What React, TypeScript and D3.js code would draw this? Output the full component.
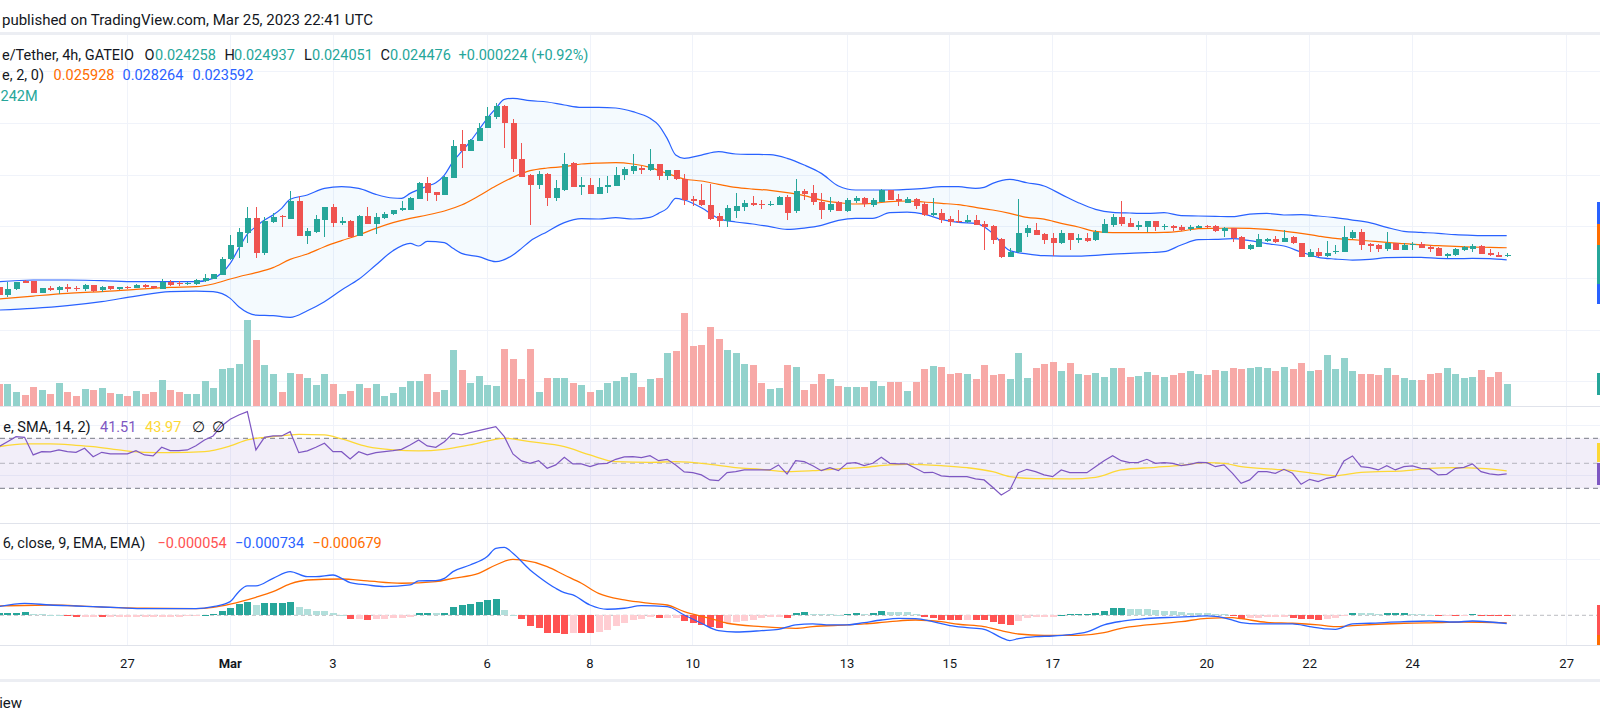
import * as d3 from "d3";

// 4h bars, the first visible one opens 24 Feb 2023 12:00 UTC
const firstBar = Date.UTC(2023, 1, 24, 12);
const barMs = 4 * 3600 * 1000;

// [open, high, low, close] in 10^-3 USDT
const candles: [number, number, number, number][] = [
  [18.26, 18.45, 16.6, 16.78], [16.78, 19.36, 16.45, 17.87], [17.87, 19.36, 17.74, 19.23], [19.49, 19.68, 19.04, 19.16],
  [19.42, 19.55, 17.23, 17.23], [17.23, 18.2, 17.1, 18.13], [18.13, 18.45, 17.62, 17.74], [17.74, 18.52, 16.91, 18.26],
  [18.26, 18.91, 17.36, 17.87], [18.13, 18.45, 17.62, 17.94], [17.87, 18.91, 17.62, 18.71], [18.71, 18.8, 17.42, 17.62],
  [17.74, 18.52, 17.42, 18.33], [18.52, 18.6, 17.8, 17.87], [17.94, 18.4, 17.8, 18.26], [18.33, 18.5, 17.95, 18.07],
  [18.2, 18.9, 18.1, 18.71], [18.71, 18.85, 18.2, 18.26], [18.45, 18.6, 18.0, 18.13], [17.94, 19.87, 17.94, 19.36],
  [19.36, 19.68, 18.52, 18.71], [19.16, 19.55, 18.52, 18.84], [18.84, 19.3, 18.7, 19.16], [18.84, 19.81, 18.71, 19.68],
  [19.42, 20.84, 19.36, 20.13], [19.94, 20.9, 19.9, 20.84], [20.65, 24.2, 20.65, 23.74], [23.74, 28.39, 23.55, 26.45],
  [26.13, 29.68, 23.87, 28.91], [28.84, 33.87, 26.78, 31.62], [31.62, 33.87, 24.0, 24.97], [24.97, 31.94, 24.52, 31.1],
  [30.97, 32.58, 30.78, 31.94], [32.07, 32.26, 30.0, 31.81], [31.55, 36.91, 31.55, 35.04], [35.04, 35.94, 28.26, 28.26],
  [28.26, 29.81, 26.58, 29.16], [29.04, 32.26, 28.71, 31.49], [31.29, 33.87, 28.07, 33.74], [33.74, 34.33, 30.0, 30.78],
  [30.78, 31.94, 30.33, 31.1], [31.1, 31.3, 28.07, 28.07], [28.26, 32.26, 28.26, 32.07], [32.07, 33.87, 30.52, 30.52],
  [30.52, 32.58, 28.58, 31.94], [31.68, 32.91, 31.42, 32.45], [32.45, 33.3, 32.3, 33.23], [33.23, 34.97, 33.04, 33.55],
  [33.23, 35.81, 33.23, 35.62], [35.36, 38.6, 35.3, 38.45], [38.45, 39.55, 35.04, 36.58], [36.71, 36.8, 35.04, 36.2],
  [36.2, 39.8, 36.2, 39.68], [39.49, 46.78, 39.49, 45.68], [46.0, 48.71, 41.42, 44.71], [44.71, 46.9, 44.6, 46.78],
  [46.65, 50.0, 46.6, 49.16], [49.16, 53.23, 49.1, 51.42], [51.29, 53.87, 50.78, 53.36], [53.36, 53.5, 45.16, 50.13],
  [50.13, 50.84, 40.65, 43.1], [43.1, 46.26, 39.68, 39.68], [40.0, 40.13, 30.33, 38.07], [38.07, 40.84, 37.23, 40.2],
  [40.2, 40.3, 34.0, 35.62], [35.62, 39.04, 35.04, 37.55], [37.1, 44.33, 36.97, 42.13], [42.39, 42.5, 37.74, 37.74],
  [37.74, 39.55, 36.13, 38.07], [38.07, 39.36, 36.33, 36.33], [36.33, 39.36, 36.33, 37.62], [37.62, 39.81, 36.58, 38.07],
  [37.87, 41.49, 37.87, 40.0], [40.0, 41.62, 39.04, 41.16], [40.84, 44.07, 40.2, 41.74], [41.42, 41.81, 40.2, 40.97],
  [40.97, 45.04, 40.84, 42.13], [42.13, 42.2, 39.04, 39.87], [39.87, 41.0, 39.04, 40.97], [40.97, 41.0, 39.04, 39.16],
  [39.16, 40.13, 34.2, 35.16], [35.36, 35.94, 34.0, 35.04], [35.16, 38.26, 34.0, 34.2], [34.2, 38.26, 31.29, 31.55],
  [32.07, 32.71, 30.0, 31.16], [31.16, 34.2, 30.0, 33.55], [33.1, 36.45, 31.74, 34.0], [33.87, 35.16, 33.1, 34.52],
  [34.52, 35.94, 34.0, 34.2], [34.39, 35.1, 33.5, 34.26], [34.2, 35.04, 34.0, 34.39], [34.2, 35.94, 34.2, 35.74],
  [35.74, 36.13, 31.29, 32.71], [33.04, 39.16, 32.71, 36.91], [36.91, 37.29, 35.16, 36.39], [36.45, 38.0, 34.2, 34.84],
  [34.84, 36.45, 31.55, 33.23], [33.23, 35.81, 32.91, 34.39], [34.71, 35.0, 33.0, 33.1], [33.1, 35.49, 32.91, 35.16],
  [35.04, 35.94, 34.5, 35.62], [35.62, 35.7, 33.9, 34.33], [34.26, 35.62, 33.9, 35.16], [34.84, 37.3, 34.8, 37.1],
  [37.1, 37.2, 35.1, 35.16], [35.36, 36.33, 34.0, 34.91], [34.65, 35.68, 34.52, 35.42], [35.36, 35.49, 33.49, 34.07],
  [34.39, 34.84, 32.13, 32.26], [32.26, 35.62, 32.07, 32.71], [32.65, 33.36, 30.78, 31.29], [31.42, 32.07, 30.2, 30.91],
  [31.16, 33.23, 30.65, 30.91], [30.91, 32.26, 30.78, 31.29], [31.29, 32.26, 30.26, 30.26], [30.52, 31.1, 25.49, 30.0],
  [30.13, 30.26, 26.58, 27.42], [27.62, 27.87, 24.0, 24.2], [24.2, 25.94, 24.2, 25.16], [25.16, 35.29, 24.84, 28.84],
  [28.84, 30.32, 27.94, 29.81], [29.36, 30.65, 28.39, 28.39], [28.58, 28.71, 26.65, 27.42], [27.74, 28.71, 24.32, 26.9],
  [26.9, 29.36, 26.65, 28.84], [28.71, 28.75, 25.49, 27.42], [27.42, 28.52, 26.9, 27.81], [27.87, 28.84, 27.1, 27.29],
  [27.42, 29.36, 27.29, 29.03], [28.84, 31.42, 28.71, 30.52], [30.32, 32.39, 29.87, 31.81], [31.87, 35.0, 30.13, 30.52],
  [30.78, 31.61, 30.0, 30.0], [30.0, 31.1, 29.36, 30.26], [30.0, 31.1, 29.03, 31.1], [31.1, 31.15, 29.23, 30.0],
  [30.0, 30.52, 29.36, 30.19], [30.19, 30.32, 29.23, 29.68], [29.87, 30.32, 29.23, 29.36], [29.49, 30.26, 29.23, 30.0],
  [29.81, 30.32, 29.68, 30.13], [30.13, 30.32, 29.81, 29.94], [30.13, 30.32, 29.03, 29.23], [29.23, 30.0, 28.07, 29.74],
  [29.68, 29.81, 27.1, 27.74], [28.07, 28.19, 25.68, 25.68], [25.68, 26.65, 25.49, 26.45], [26.13, 28.52, 26.13, 27.55],
  [27.29, 27.81, 27.03, 27.68], [27.68, 28.13, 26.78, 27.03], [27.03, 29.36, 27.03, 27.81], [28.0, 28.19, 26.65, 26.78],
  [26.78, 26.8, 24.07, 24.07], [24.19, 25.61, 24.07, 25.1], [25.1, 25.94, 24.07, 24.39], [24.32, 27.23, 24.19, 24.84],
  [25.16, 26.45, 24.71, 25.36], [25.16, 30.13, 25.16, 27.94], [27.81, 29.36, 27.55, 29.03], [28.97, 29.49, 25.49, 26.45],
  [26.65, 26.78, 25.16, 26.26], [26.39, 26.58, 25.16, 25.68], [25.68, 28.97, 25.23, 26.78], [26.78, 26.9, 25.49, 25.49],
  [25.49, 26.78, 25.49, 26.39], [26.39, 26.97, 25.49, 26.65], [26.65, 26.97, 25.94, 25.94], [26.13, 26.45, 25.16, 25.74],
  [25.94, 26.0, 24.32, 24.32], [24.32, 24.97, 24.0, 24.65], [24.52, 25.81, 24.32, 25.68], [25.55, 26.26, 25.29, 26.0],
  [25.74, 26.58, 25.16, 26.26], [26.26, 26.39, 24.71, 24.71], [24.97, 25.61, 24.32, 24.45], [24.58, 25.1, 24.07, 24.19],
  [24.258, 24.937, 24.051, 24.476],
];

// volume per bar, millions
const volumes = [
  2.24, 2.24, 1.43, 1.12, 1.94, 1.63, 1.22, 2.35, 1.43, 1.02,
  1.73, 1.63, 1.84, 1.33, 1.22, 1.02, 1.53, 1.22, 1.43, 2.65,
  1.63, 1.43, 1.22, 1.22, 2.55, 1.84, 3.78, 3.88, 4.29, 8.78,
  6.73, 4.18, 3.27, 1.43, 3.37, 3.27, 2.86, 2.14, 3.27, 2.24,
  1.22, 1.53, 2.24, 1.84, 2.24, 1.02, 1.33, 1.94, 2.55, 2.55,
  3.27, 1.43, 1.63, 5.71, 3.67, 2.35, 3.06, 2.14, 2.04, 5.82,
  4.8, 2.76, 5.82, 1.43, 2.86, 2.86, 2.86, 2.35, 2.14, 1.43,
  1.63, 2.35, 2.55, 2.96, 3.37, 1.94, 2.76, 2.86, 5.41, 5.61,
  9.49, 6.12, 6.22, 8.06, 6.84, 5.71, 5.41, 4.29, 4.18, 2.35,
  1.73, 1.84, 4.18, 3.98, 1.63, 2.24, 3.27, 2.76, 2.04, 1.94,
  1.94, 1.94, 2.55, 2.04, 2.45, 2.45, 1.53, 2.45, 3.78, 4.08,
  3.98, 3.27, 3.37, 3.27, 2.76, 4.18, 3.16, 3.27, 2.76, 5.41,
  2.86, 3.88, 4.29, 4.49, 3.57, 4.39, 3.27, 3.16, 3.37, 2.96,
  3.88, 3.88, 2.96, 3.06, 3.47, 3.16, 2.96, 3.16, 3.37, 3.57,
  3.27, 3.16, 3.67, 3.57, 3.88, 3.78, 3.88, 3.98, 3.91, 3.57,
  3.98, 3.78, 4.39, 3.57, 3.67, 5.2, 3.78, 4.9, 3.57, 3.27,
  3.27, 3.16, 3.88, 3.16, 2.86, 2.65, 2.65, 3.27, 3.37, 3.88,
  3.27, 2.86, 2.96, 3.67, 2.96, 3.47, 2.242,
];

// RSI 14, one value per bar
const rsiValues = [
  63.3, 67.3, 71.3, 70.8, 56.7, 59.3, 59.1, 60.7, 59.3, 58.8,
  62.0, 55.3, 58.8, 57.5, 57.5, 57.5, 60.1, 56.7, 55.9, 62.8,
  60.1, 60.1, 60.7, 64.1, 68.7, 71.9, 79.9, 85.2, 88.7, 91.3,
  60.7, 70.8, 71.9, 71.9, 75.3, 58.5, 59.9, 62.8, 66.0, 59.3,
  59.3, 53.5, 59.3, 56.7, 58.5, 59.3, 60.1, 61.2, 64.7, 68.7,
  63.9, 62.8, 67.3, 74.0, 72.7, 74.5, 76.1, 77.7, 79.3, 71.3,
  57.5, 51.9, 50.0, 52.1, 46.0, 48.7, 54.8, 49.5, 49.5, 47.3,
  49.5, 50.0, 53.2, 55.1, 55.3, 54.5, 56.1, 52.1, 53.2, 48.7,
  43.1, 42.5, 40.7, 36.7, 36.1, 42.5, 43.3, 44.7, 44.7,
  44.7, 44.7, 48.7, 41.5, 52.1, 51.3, 48.1, 44.1, 46.5, 44.1,
  50.0, 50.5, 48.1, 50.0, 54.8, 50.0, 49.5, 49.5, 46.0, 42.5,
  42.8, 39.9, 39.3, 39.3, 39.3, 37.5, 36.7, 30.8, 24.7, 28.7,
  42.5, 45.2, 43.3, 40.7, 39.3, 44.7, 42.5, 42.5, 42.5, 47.3,
  52.1, 56.1, 52.1, 50.5, 50.8, 53.2, 50.0, 50.5, 50.0, 48.1,
  49.2, 50.8, 50.5, 47.3, 48.7, 42.0, 34.0, 36.7, 43.3, 43.3,
  42.0, 45.2, 42.0, 33.2, 37.2, 35.3, 38.0, 39.3, 51.9, 55.9,
  47.3, 46.5, 44.7, 48.1, 44.7, 47.3, 47.9, 46.0, 45.5, 40.7,
  41.2, 46.0, 46.8, 49.5, 43.3, 41.5, 40.7, 41.51,
];

// SMA 14 of the RSI, [bar, value]
const rsiSma: [number, number][] = [
  [0, 63.3], [3, 65.5], [6, 65.5], [9, 64.4], [11, 63.3], [14, 60.7], [17, 58.8], [20, 58.5], [24, 59.3],
  [27, 63.9], [29, 68.7], [32, 71.3], [35, 73.2], [38, 72.7], [40, 69.5], [43, 63.3], [46, 60.7], [49, 59.9],
  [52, 61.2], [55, 64.7], [59, 70.0], [62, 67.3], [66, 63.3], [69, 56.7], [72, 51.3], [76, 50.8], [79, 51.3],
  [83, 49.2], [86, 46.5], [89, 45.2], [92, 43.3], [95, 44.1], [98, 45.5], [101, 46.8], [104, 48.7], [106, 49.2],
  [110, 48.1], [113, 46.5], [116, 43.3], [118, 39.3], [121, 37.7], [125, 37.5], [128, 38.8], [131, 44.7],
  [135, 46.8], [138, 48.4], [141, 50.5], [143, 50.0], [145, 47.3], [149, 45.2], [151, 44.1], [154, 41.5],
  [156, 40.1], [159, 42.8], [161, 43.3], [164, 43.9], [167, 46.0], [170, 46.5], [173, 46.0], [176, 43.97],
];

// Bollinger Bands 20, 2: [bar, price 10^-3]
const bbUpper: [number, number][] = [
  [0, 19.36], [4, 19.68], [8, 19.68], [12, 19.55], [16, 19.36], [20, 19.36], [23, 19.36], [25, 20.0], [27, 22.9],
  [28, 25.8], [29, 28.58], [30, 30.0], [31, 31.29], [32, 32.26], [33, 33.55], [34, 35.3], [36, 36.13], [38, 37.42],
  [40, 37.74], [42, 37.42], [44, 36.26], [46, 35.55], [47, 35.49], [48, 36.45], [50, 37.87], [51, 38.52], [52, 40.0],
  [53, 42.58], [54, 44.52], [55, 46.45], [56, 48.71], [57, 50.97], [58, 52.9], [59, 54.65], [60, 54.84], [62, 54.39],
  [64, 54.13], [66, 53.55], [68, 53.1], [70, 53.1], [72, 52.97], [74, 52.26], [76, 50.97], [77, 49.68], [78, 47.1],
  [79, 43.87], [80, 43.23], [82, 43.87], [84, 44.52], [86, 44.07], [88, 44.0], [90, 43.94], [92, 43.23], [94, 41.94],
  [96, 40.32], [98, 37.87], [100, 37.1], [102, 37.1], [104, 37.1], [106, 37.23], [108, 37.42], [110, 37.74],
  [112, 37.74], [114, 37.42], [115, 37.62], [116, 38.39], [118, 39.16], [120, 38.5], [122, 37.87], [124, 36.26],
  [126, 34.65], [128, 33.36], [130, 32.77], [132, 32.65], [134, 32.58], [136, 32.71], [138, 32.13], [140, 32.07],
  [142, 32.0], [144, 31.94], [146, 32.45], [148, 32.58], [150, 32.26], [152, 32.32], [154, 32.07], [156, 31.74],
  [158, 31.29], [160, 30.78], [162, 29.87], [164, 29.1], [166, 28.9], [168, 28.71], [170, 28.45], [172, 28.32],
  [174, 28.26], [176, 28.264],
];
const bbBasis: [number, number][] = [
  [0, 16.0], [4, 16.58], [8, 17.1], [12, 17.42], [16, 17.87], [20, 18.26], [23, 18.39], [25, 18.91], [27, 19.87],
  [28, 20.32], [30, 21.1], [32, 22.07], [34, 23.68], [36, 24.71], [38, 26.13], [40, 27.3], [42, 28.39], [44, 29.68],
  [46, 30.78], [48, 31.62], [50, 32.26], [52, 33.04], [54, 34.2], [56, 35.94], [58, 37.87], [60, 39.55], [62, 40.84],
  [64, 41.36], [66, 41.62], [68, 42.13], [70, 42.32], [72, 42.39], [74, 42.13], [76, 41.49], [78, 40.32], [80, 39.23],
  [82, 38.84], [84, 38.2], [86, 37.62], [88, 37.29], [90, 37.03], [92, 36.58], [94, 36.0], [96, 35.16], [98, 34.65],
  [100, 34.39], [102, 34.52], [104, 34.84], [106, 34.97], [108, 34.78], [110, 34.52], [112, 34.26], [114, 33.74],
  [116, 33.23], [118, 32.58], [120, 31.8], [122, 31.48], [124, 30.65], [126, 29.94], [128, 29.1], [130, 28.84],
  [132, 28.84], [134, 28.84], [136, 28.9], [138, 29.16], [140, 29.61], [142, 29.68], [144, 29.74], [146, 29.68],
  [148, 29.49], [150, 29.16], [152, 28.71], [154, 28.19], [156, 27.74], [158, 27.48], [160, 27.23], [162, 26.97],
  [164, 26.71], [166, 26.52], [168, 26.32], [170, 26.19], [172, 26.06], [174, 26.0], [176, 25.928],
];
const bbLower: [number, number][] = [
  [0, 13.87], [4, 14.19], [8, 14.71], [12, 15.49], [16, 16.58], [20, 17.42], [23, 17.55], [25, 17.42], [27, 16.13],
  [28, 14.52], [30, 12.9], [32, 12.78], [34, 12.45], [36, 13.74], [38, 15.49], [40, 17.74], [42, 19.81], [44, 22.58],
  [46, 25.36], [48, 26.78], [49, 26.26], [50, 27.16], [52, 26.9], [53, 25.81], [54, 24.84], [56, 24.2], [58, 23.23],
  [60, 24.52], [61, 25.81], [62, 27.2], [64, 29.04], [66, 30.78], [68, 31.55], [70, 31.49], [72, 31.74], [74, 31.49],
  [76, 31.81], [77, 32.58], [78, 33.55], [79, 35.49], [80, 35.16], [82, 33.68], [84, 31.62], [86, 30.91], [88, 30.52],
  [90, 30.0], [92, 29.49], [94, 29.74], [96, 30.26], [98, 31.23], [100, 31.62], [102, 31.62], [104, 32.71],
  [106, 32.84], [108, 32.45], [110, 31.42], [112, 30.84], [114, 30.65], [115, 30.0], [116, 28.71], [118, 25.36],
  [120, 24.75], [122, 24.39], [124, 24.32], [126, 24.32], [128, 24.45], [130, 24.71], [132, 24.84], [134, 24.97],
  [136, 25.16], [138, 26.45], [140, 27.48], [142, 27.55], [144, 27.68], [146, 27.29], [148, 26.71], [150, 26.26],
  [152, 25.1], [154, 24.07], [156, 23.74], [158, 23.55], [160, 23.68], [162, 24.0], [164, 24.07], [166, 24.07],
  [168, 23.87], [170, 23.81], [172, 23.87], [174, 23.81], [176, 23.592],
];

// MACD 12, 26, 9 in 10^-3 USDT: [bar, value]
const macdLine: [number, number][] = [
  [0, 0.77], [3, 1.07], [6, 0.92], [9, 0.83], [11, 0.77], [14, 0.68], [17, 0.6], [20, 0.6], [23, 0.6], [25, 0.77],
  [27, 1.22], [28, 2.11], [29, 2.62], [30, 2.62], [32, 3.3], [34, 3.9], [36, 3.45], [37, 3.45], [39, 3.6], [40, 3.3],
  [41, 2.92], [43, 2.71], [45, 2.56], [48, 2.71], [49, 3.07], [51, 3.1], [52, 3.3], [53, 3.9], [55, 4.49], [57, 5.24],
  [58, 5.98], [59, 6.07], [60, 5.54], [62, 4.05], [63, 3.45], [65, 2.41], [66, 2.02], [67, 1.82], [69, 0.92],
  [71, 0.54], [73, 0.63], [75, 0.86], [78, 0.77], [80, 0.03], [82, -0.71], [84, -1.37], [86, -1.49], [89, -1.37],
  [91, -1.25], [93, -0.86], [95, -0.77], [97, -0.86], [99, -0.86], [101, -0.65], [103, -0.42], [105, -0.27],
  [107, -0.3], [109, -0.57], [111, -0.92], [113, -1.1], [115, -1.25], [117, -1.99], [118, -2.26], [119, -2.08],
  [121, -1.9], [123, -1.85], [125, -1.73], [127, -1.49], [129, -0.86], [131, -0.54], [133, -0.36], [135, -0.24],
  [137, -0.18], [139, -0.12], [141, -0.06], [142, -0.09], [144, -0.42], [145, -0.65], [147, -0.77], [149, -0.77],
  [151, -0.77], [153, -1.01], [155, -1.22], [156, -1.25], [158, -0.77], [160, -0.71], [164, -0.57], [167, -0.51],
  [170, -0.6], [172, -0.51], [176, -0.734],
];
const macdSignal: [number, number][] = [
  [0, 0.83], [6, 0.92], [11, 0.77], [17, 0.63], [23, 0.6], [25, 0.71], [27, 1.0], [30, 1.61], [32, 2.11], [34, 2.8],
  [36, 3.15], [40, 3.24], [43, 3.07], [47, 2.86], [51, 3.01], [53, 3.3], [56, 3.75], [58, 4.49], [60, 5.0], [61, 4.94],
  [64, 4.35], [66, 3.6], [68, 2.86], [70, 1.96], [73, 1.37], [76, 1.07], [78, 0.92], [80, 0.33], [83, -0.27],
  [85, -0.71], [89, -1.01], [93, -1.16], [95, -1.01], [99, -0.86], [101, -0.77], [104, -0.57], [107, -0.42],
  [110, -0.57], [112, -0.8], [115, -1.01], [117, -1.37], [119, -1.67], [122, -1.79], [126, -1.79], [129, -1.55],
  [131, -1.16], [134, -0.86], [138, -0.57], [141, -0.27], [144, -0.21], [145, -0.3], [148, -0.63], [151, -0.71],
  [154, -0.86], [156, -1.01], [158, -0.92], [161, -0.8], [164, -0.71], [168, -0.65], [171, -0.6], [176, -0.679],
];
const macdHist = [
  0.18, 0.18, 0.24, 0.33, 0.12, 0.09, 0.06, 0.03, -0.09, -0.12,
  -0.12, -0.12, -0.15, -0.15, -0.15, -0.15, -0.15, -0.15, -0.12, -0.12,
  -0.12, -0.12, -0.09, -0.06, 0.01, 0.09, 0.39, 0.68, 0.98, 1.22,
  0.92, 1.1, 1.12, 1.14, 1.22, 0.77, 0.54, 0.42, 0.41, 0.24,
  0.06, -0.3, -0.29, -0.39, -0.33, -0.33, -0.27, -0.24, -0.12, 0.21,
  0.21, 0.2, 0.24, 0.77, 0.92, 0.98, 1.16, 1.37, 1.46, 0.48,
  0.03, -0.33, -0.95, -1.1, -1.55, -1.6, -1.67, -1.55, -1.58, -1.6,
  -1.52, -1.31, -0.95, -0.65, -0.42, -0.3, -0.18, -0.24, -0.23, -0.21,
  -0.51, -0.65, -0.86, -1.01, -1.16, -0.71, -0.57, -0.51, -0.42, -0.27,
  -0.18, -0.12, -0.21, 0.18, 0.3, 0.15, 0.09, 0.08, 0.06, 0.12,
  0.18, 0.12, 0.21, 0.39, 0.3, 0.29, 0.28, 0.09, -0.12, -0.27,
  -0.42, -0.43, -0.44, -0.4, -0.42, -0.45, -0.57, -0.77, -0.86, -0.51,
  -0.27, -0.18, -0.12, -0.11, 0.01, 0.09, 0.1, 0.11, 0.24, 0.39,
  0.62, 0.63, 0.54, 0.53, 0.52, 0.48, 0.42, 0.39, 0.27, 0.21,
  0.18, 0.17, 0.12, 0.09, -0.09, -0.36, -0.27, -0.22, -0.19, -0.18,
  -0.17, -0.24, -0.3, -0.36, -0.42, -0.36, -0.27, -0.06, 0.21, 0.18,
  0.17, 0.16, 0.18, 0.19, 0.2, 0.12, 0.11, 0.06, -0.06, -0.03,
  -0.06, -0.01, 0.09, -0.03, -0.04, -0.05, -0.054,
];

// time axis labels
const dayTicks: [string, string][] = [
  ["2023-02-27", "27"], ["2023-03-01", "Mar"], ["2023-03-03", "3"], ["2023-03-06", "6"], ["2023-03-08", "8"],
  ["2023-03-10", "10"], ["2023-03-13", "13"], ["2023-03-15", "15"], ["2023-03-17", "17"], ["2023-03-20", "20"],
  ["2023-03-22", "22"], ["2023-03-24", "24"], ["2023-03-27", "27"],
];
const priceGrid = [0, 10, 20, 30, 40, 50, 60];
const rsiGrid = [40, 80];
const macdGrid = [5];

const FONT = "Roboto, 'Liberation Sans', sans-serif";
const INK = "#131722";
const UP = "#26a69a";
const DOWN = "#ef5350";
const BLUE = "#2962ff";
const ORANGE = "#ff6d00";
const GRID = "#f0f3fa";
const BORDER = "#e0e3eb";
const RIGHT = 1600;

export default function App() {
  const x = d3
    .scaleUtc()
    .domain([new Date(firstBar), new Date(firstBar + 176 * barMs)])
    .range([-1.1, 1506.7]);
  const bx = (i: number) => x(new Date(firstBar + i * barMs));

  const yPrice = d3.scaleLinear().domain([0, 60]).range([381.7, 71.7]);
  const yVol = d3.scaleLinear().domain([0, 10]).range([406, 307.9]);
  const yRsi = d3.scaleLinear().domain([30, 70]).range([488.3, 438.3]);
  const yMacd = d3.scaleLinear().domain([0, 5]).range([615.3, 559.3]);

  const smooth = (ys: d3.ScaleLinear<number, number>) =>
    d3
      .line<[number, number]>()
      .x((d) => bx(d[0]))
      .y((d) => ys(d[1]))
      .curve(d3.curveMonotoneX);

  const belowUpper = d3
    .area<[number, number]>()
    .x((d) => bx(d[0]))
    .y0(406)
    .y1((d) => yPrice(d[1]))
    .curve(d3.curveMonotoneX)(bbUpper);
  const aboveLower = d3
    .area<[number, number]>()
    .x((d) => bx(d[0]))
    .y0(30)
    .y1((d) => yPrice(d[1]))
    .curve(d3.curveMonotoneX)(bbLower);

  const rsiPath = d3
    .line<number>()
    .x((_, i) => bx(i))
    .y((d) => yRsi(d))(rsiValues);

  const histColor = (i: number) => {
    const v = macdHist[i];
    const p = i > 0 ? macdHist[i - 1] : v;
    if (v >= 0) return v >= p ? "#26a69a" : "#b2dfdb";
    return v < p ? "#ff5252" : "#ffcdd2";
  };

  const txt = (
    s: string,
    xPos: number,
    y: number,
    fill: string,
    anchor: string = "start",
    size = 14.5,
    weight = 400
  ) => (
    <text x={xPos} y={y} fill={fill} fontSize={size} fontWeight={weight} textAnchor={anchor} fontFamily={FONT}>
      {s}
    </text>
  );

  return (
    <svg
      width={1600}
      height={724}
      viewBox="0 0 1600 724"
      style={{ position: "absolute", left: 0, top: 0, background: "#fff" }}
    >
      <defs>
        <clipPath id="mainPane">
          <rect x={0} y={35} width={RIGHT} height={371} />
        </clipPath>
        <clipPath id="rsiPane">
          <rect x={0} y={407} width={RIGHT} height={115} />
        </clipPath>
        <clipPath id="macdPane">
          <rect x={0} y={524} width={RIGHT} height={121} />
        </clipPath>
        <clipPath id="aboveLower">
          <path d={aboveLower || ""} />
        </clipPath>
      </defs>
      <rect width={1600} height={724} fill="#fff" />

      {/* title bar */}
      {txt("published on TradingView.com, Mar 25, 2023 22:41 UTC", 2, 25, INK, "start", 15)}
      <rect x={0} y={32} width={1600} height={3} fill="#eceef3" />

      {/* grid */}
      <g shapeRendering="crispEdges">
        {dayTicks.map(([d], k) => (
          <line key={k} x1={x(new Date(d))} x2={x(new Date(d))} y1={35} y2={645} stroke={GRID} />
        ))}
        {priceGrid.map((p) => (
          <line key={p} x1={0} x2={RIGHT} y1={yPrice(p)} y2={yPrice(p)} stroke={GRID} />
        ))}
        {rsiGrid.map((r) => (
          <line key={r} x1={0} x2={RIGHT} y1={yRsi(r)} y2={yRsi(r)} stroke={GRID} />
        ))}
        {macdGrid.map((m) => (
          <line key={m} x1={0} x2={RIGHT} y1={yMacd(m)} y2={yMacd(m)} stroke={GRID} />
        ))}
      </g>

      {/* main pane */}
      <g clipPath="url(#mainPane)">
        <g shapeRendering="crispEdges">
          {volumes.map((v, i) => {
            const [o, , , c] = candles[i];
            const cx = Math.round(bx(i));
            return (
              <rect
                key={i}
                x={cx - 3}
                y={yVol(v)}
                width={7}
                height={406 - yVol(v)}
                fill={c >= o ? "#92d2cc" : "#f7a9a7"}
              />
            );
          })}
        </g>
        <path d={belowUpper || ""} fill="rgba(33,150,243,0.05)" clipPath="url(#aboveLower)" />
        <path d={smooth(yPrice)(bbBasis) || ""} fill="none" stroke={ORANGE} strokeWidth={1.2} />
        <path d={smooth(yPrice)(bbUpper) || ""} fill="none" stroke={BLUE} strokeWidth={1.2} />
        <path d={smooth(yPrice)(bbLower) || ""} fill="none" stroke={BLUE} strokeWidth={1.2} />
        <g shapeRendering="crispEdges">
          {candles.map(([o, h, l, c], i) => {
            const cx = Math.round(bx(i));
            const col = c >= o ? UP : DOWN;
            const top = yPrice(Math.max(o, c));
            const bot = yPrice(Math.min(o, c));
            return (
              <g key={i}>
                <rect x={cx} y={yPrice(h)} width={1} height={yPrice(l) - yPrice(h)} fill={col} />
                <rect x={cx - 2.5} y={top} width={6} height={Math.max(1, bot - top)} fill={col} />
              </g>
            );
          })}
        </g>
      </g>

      {/* RSI pane */}
      <g clipPath="url(#rsiPane)">
        <rect x={0} y={yRsi(70)} width={RIGHT} height={yRsi(30) - yRsi(70)} fill="rgba(126,87,194,0.1)" />
        <line x1={0} x2={RIGHT} y1={yRsi(70)} y2={yRsi(70)} stroke="#787b86" strokeDasharray="5 4" />
        <line x1={0} x2={RIGHT} y1={yRsi(50)} y2={yRsi(50)} stroke="rgba(120,123,134,0.5)" strokeDasharray="5 4" />
        <line x1={0} x2={RIGHT} y1={yRsi(30)} y2={yRsi(30)} stroke="#787b86" strokeDasharray="5 4" />
        <path d={smooth(yRsi)(rsiSma) || ""} fill="none" stroke="#fdd835" strokeWidth={1.3} />
        <path d={rsiPath || ""} fill="none" stroke="#7e57c2" strokeWidth={1.2} />
      </g>

      {/* MACD pane */}
      <g clipPath="url(#macdPane)">
        <line x1={0} x2={RIGHT} y1={yMacd(0)} y2={yMacd(0)} stroke="rgba(120,123,134,0.5)" strokeDasharray="4 3" />
        <g shapeRendering="crispEdges">
          {macdHist.map((v, i) => {
            const cx = Math.round(bx(i));
            const y0 = yMacd(0);
            const y1 = yMacd(v);
            return (
              <rect
                key={i}
                x={cx - 3}
                y={Math.min(y0, y1)}
                width={7}
                height={Math.max(1, Math.abs(y1 - y0))}
                fill={histColor(i)}
              />
            );
          })}
        </g>
        <path d={smooth(yMacd)(macdSignal) || ""} fill="none" stroke={ORANGE} strokeWidth={1.3} />
        <path d={smooth(yMacd)(macdLine) || ""} fill="none" stroke={BLUE} strokeWidth={1.3} />
      </g>

      {/* pane borders */}
      <g shapeRendering="crispEdges">
        <line x1={0} x2={RIGHT} y1={406.5} y2={406.5} stroke={BORDER} />
        <line x1={0} x2={RIGHT} y1={523} y2={523} stroke={BORDER} />
        <line x1={0} x2={RIGHT} y1={645.5} y2={645.5} stroke={BORDER} />
        <rect x={0} y={679} width={1600} height={3} fill="#eceef3" />
      </g>

      {/* price scale value tags, cut at the picture edge */}
      <rect x={1597} y={202} width={3} height={22} fill={BLUE} />
      <rect x={1597} y={224} width={3} height={21} fill={ORANGE} />
      <rect x={1597} y={245} width={3} height={39} fill={UP} />
      <rect x={1597} y={284} width={3} height={20} fill={BLUE} />
      <rect x={1597} y={373} width={3} height={22} fill={UP} />
      <rect x={1597} y={443} width={3} height={19} fill="#fdd835" />
      <rect x={1597} y={463} width={3} height={22} fill="#7e57c2" />
      <rect x={1597} y={605} width={3} height={30} fill="#ff5252" />
      <rect x={1597} y={635} width={3} height={10} fill={ORANGE} />

      {/* legends */}
      {txt("e/Tether, 4h, GATEIO", 134, 60, INK, "end")}
      {txt("O", 144.5, 60, INK)}
      {txt("0.024258", 155, 60, UP)}
      {txt("H", 224.5, 60, INK)}
      {txt("0.024937", 234, 60, UP)}
      {txt("L", 304, 60, INK)}
      {txt("0.024051", 312, 60, UP)}
      {txt("C", 380.5, 60, INK)}
      {txt("0.024476", 390, 60, UP)}
      {txt("+0.000224 (+0.92%)", 458.5, 60, UP)}

      {txt("e, 2, 0)", 44, 80, INK, "end")}
      {txt("0.025928", 53.6, 80, ORANGE)}
      {txt("0.028264", 122.5, 80, BLUE)}
      {txt("0.023592", 192.5, 80, BLUE)}

      {txt("242M", 0.5, 101, UP)}

      {txt("e, SMA, 14, 2)", 90.6, 432, INK, "end")}
      {txt("41.51", 100, 432, "#7e57c2")}
      {txt("43.97", 145, 432, "#fdd835")}
      {txt("∅", 192, 432, INK)}
      {txt("∅", 212, 432, INK)}

      {txt("6, close, 9, EMA, EMA)", 145.4, 548, INK, "end")}
      {txt("−0.000054", 157.5, 548, "#ff5252")}
      {txt("−0.000734", 235, 548, BLUE)}
      {txt("−0.000679", 312.6, 548, ORANGE)}

      {/* time axis */}
      {dayTicks.map(([d, label], k) => (
        <text
          key={k}
          x={x(new Date(d))}
          y={668}
          textAnchor="middle"
          fontFamily={FONT}
          fontSize={13}
          fontWeight={label === "Mar" ? 700 : 400}
          fill={INK}
        >
          {label}
        </text>
      ))}

      {txt("iew", 22, 708, INK, "end", 15)}
    </svg>
  );
}
